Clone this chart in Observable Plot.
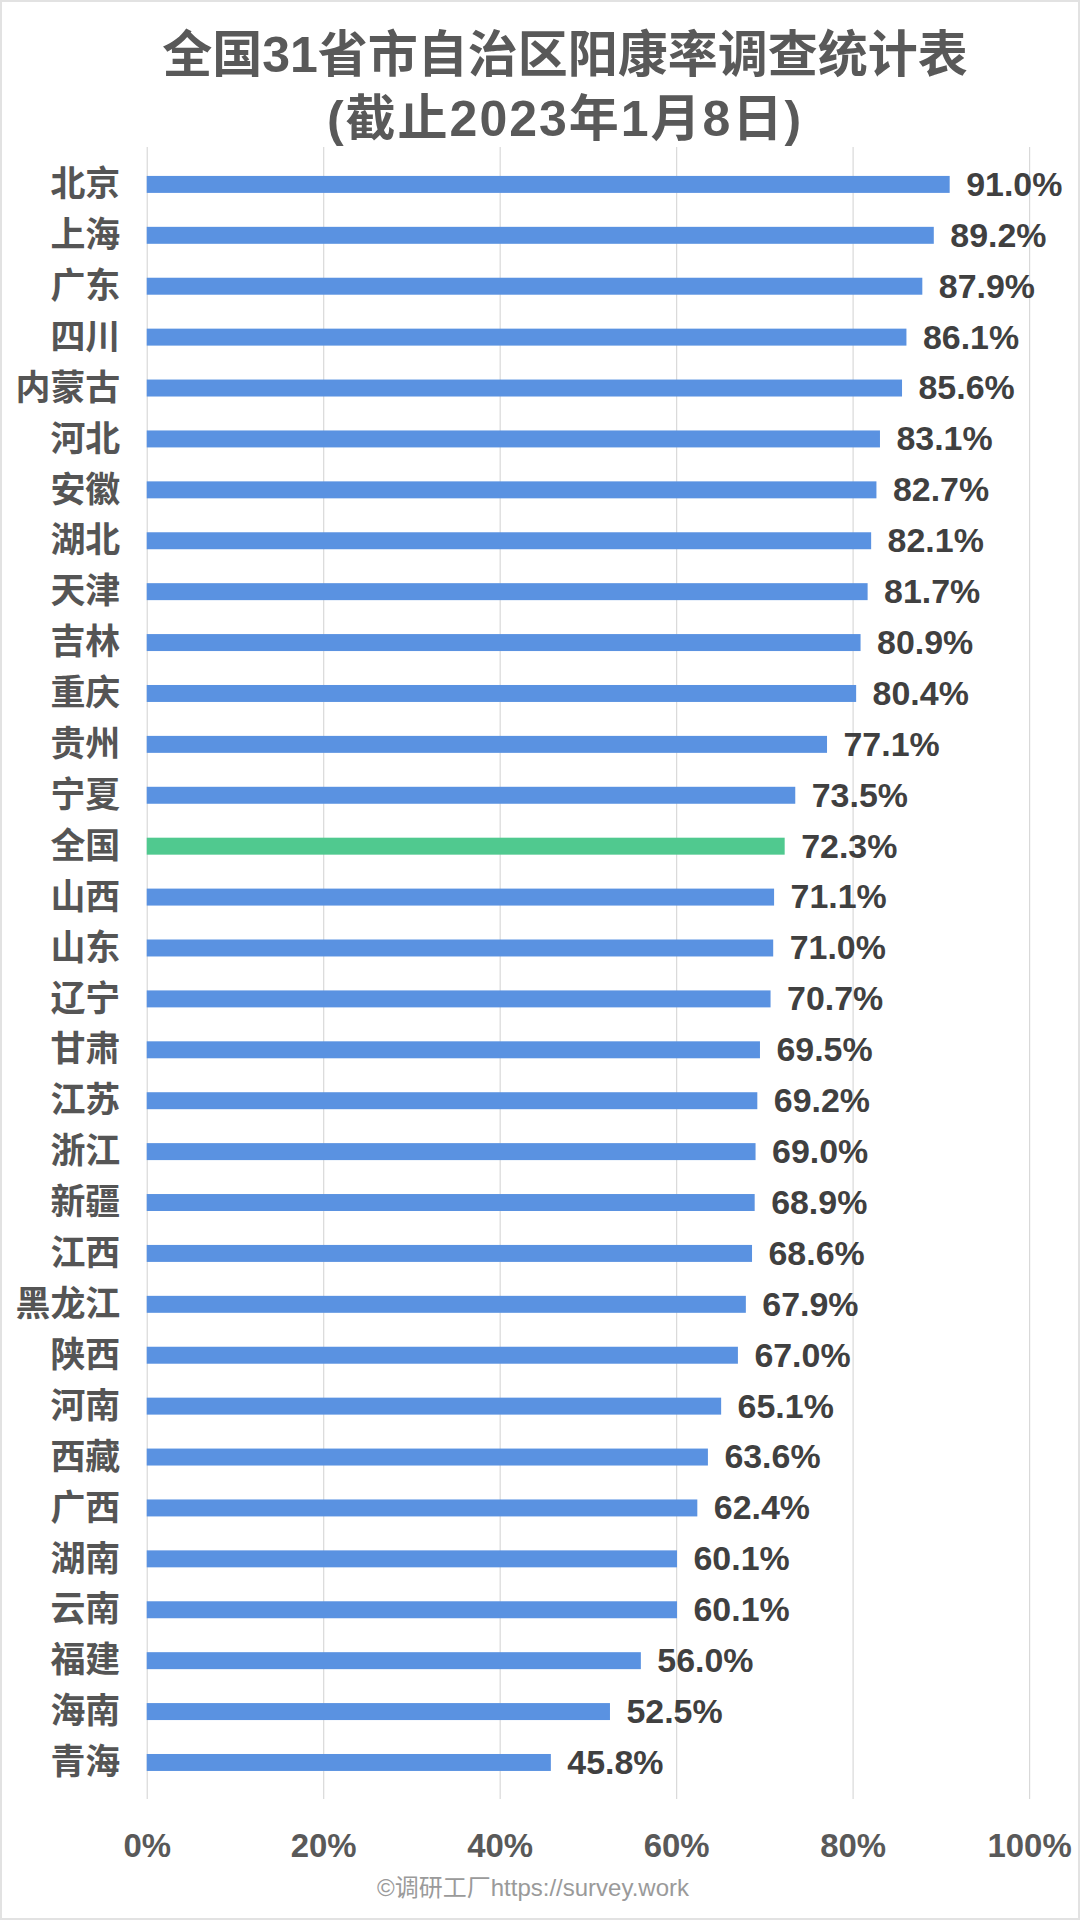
<!DOCTYPE html>
<html>
<head>
<meta charset="utf-8">
<script src="https://cdn.jsdelivr.net/npm/d3@7"></script>
<script src="https://cdn.jsdelivr.net/npm/@observablehq/plot@0.6"></script>
<style>
  html, body { margin: 0; padding: 0; background: #fff; }
  #frame {
    position: relative; width: 1080px; height: 1920px; box-sizing: border-box;
    border: 2px solid #e2e2e2; overflow: hidden; background: #fff;
    font-family: "Liberation Sans", "Noto Sans CJK SC", sans-serif;
  }
  #title {
    position: absolute; left: 50px; right: 0; top: 21px;
    text-align: center; font-size: 50px; font-weight: bold; color: #595959;
    line-height: 64px; font-family: "Liberation Sans", "Noto Sans CJK SC", sans-serif;
  }
  #title .sub { letter-spacing: 2px; }
  #chart { position: absolute; left: -2px; top: 136px; }
  #footer {
    position: absolute; left: 0; width: 1062px; top: 1871px; text-align: center;
    font-size: 24px; color: #9a9a9a; line-height: 30px;
  }
</style>
</head>
<body>
<div id="frame">
  <div id="title">全国31省市自治区阳康率调查统计表<br><span class="sub">(截止2023年1月8日)</span></div>
  <div id="chart"></div>
  <div id="footer">©调研工厂https://survey.work</div>
</div>
<script>
const provinces = ["北京","上海","广东","四川","内蒙古","河北","安徽","湖北","天津","吉林","重庆","贵州","宁夏","全国","山西","山东","辽宁","甘肃","江苏","浙江","新疆","江西","黑龙江","陕西","河南","西藏","广西","湖南","云南","福建","海南","青海"];
const rates = [91.0,89.2,87.9,86.1,85.6,83.1,82.7,82.1,81.7,80.9,80.4,77.1,73.5,72.3,71.1,71.0,70.7,69.5,69.2,69.0,68.9,68.6,67.9,67.0,65.1,63.6,62.4,60.1,60.1,56.0,52.5,45.8];
const xTicks = [0, 20, 40, 60, 80, 100];
const highlight = "全国";

const data = provinces.map((name, i) => ({name, rate: rates[i]}));
const fontFamily = '"Liberation Sans", "Noto Sans CJK SC", sans-serif';

const chart = Plot.plot({
  width: 1080,
  height: 1739,
  marginTop: 9,
  marginBottom: 75,
  marginLeft: 147,
  marginRight: 49,
  style: {fontFamily, background: "transparent"},
  x: {domain: [0, 100], ticks: xTicks},
  y: {domain: provinces, padding: 0},
  marks: [
    Plot.gridX(xTicks, {stroke: "#d9d9d9", strokeOpacity: 1, strokeWidth: 1.2}),
    Plot.barX(data, {
      x: "rate", y: "name", insetTop: 17, insetBottom: 17,
      fill: d => d.name === highlight ? "#50c98f" : "#5a92e1"
    }),
    Plot.text(data, {
      x: "rate", y: "name", text: d => d.rate.toFixed(1) + "%",
      dx: 16, textAnchor: "start", fontSize: 34, fontWeight: "bold", fill: "#404040"
    }),
    Plot.axisX(xTicks, {
      anchor: "bottom", tickSize: 0, tickPadding: 34, label: null,
      tickFormat: d => d + "%", fontSize: 33, fontWeight: "bold", fill: "#595959"
    }),
    Plot.axisY({
      anchor: "left", tickSize: 0, tickPadding: 27, label: null,
      fontSize: 35, fontWeight: "bold", fill: "#555555"
    })
  ]
});
document.getElementById("chart").appendChild(chart);
</script>
</body>
</html>
